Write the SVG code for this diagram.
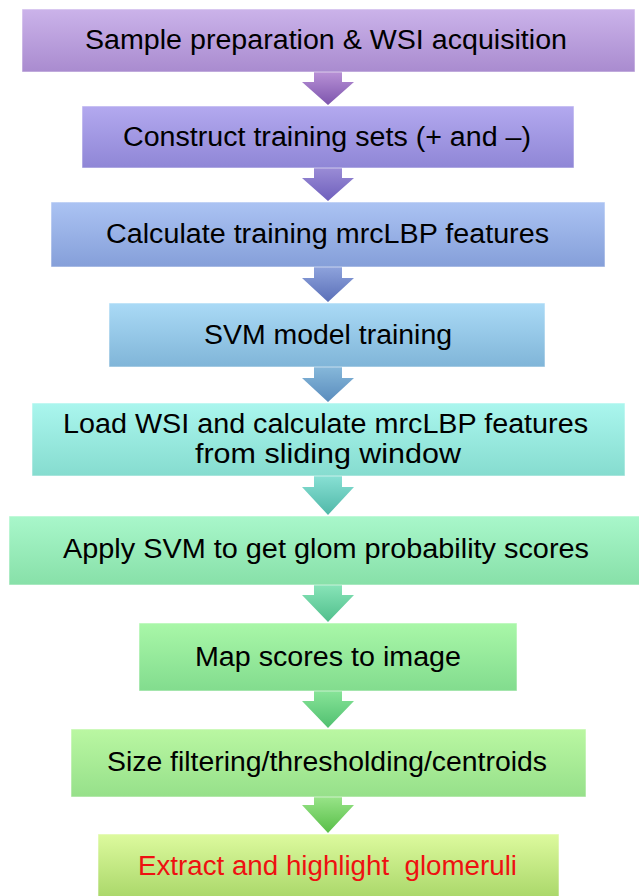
<svg xmlns="http://www.w3.org/2000/svg" width="639" height="896" viewBox="0 0 639 896">
<style>
  .box { stroke: #ffffff; stroke-opacity: 0.55; stroke-width: 1; }
  .lbl { font-family: "Liberation Sans", Arial, sans-serif; font-size: 27px; fill: #000000; text-anchor: middle; }
  .red { fill: #ee1111; }
</style>
<defs>
  <linearGradient id="g1" x1="0" y1="0" x2="0" y2="1"><stop offset="0" stop-color="#cbb3ea"/><stop offset="1" stop-color="#a98bcf"/></linearGradient>
  <linearGradient id="g2" x1="0" y1="0" x2="0" y2="1"><stop offset="0" stop-color="#b3a9ef"/><stop offset="1" stop-color="#8f86d6"/></linearGradient>
  <linearGradient id="g3" x1="0" y1="0" x2="0" y2="1"><stop offset="0" stop-color="#abc3f3"/><stop offset="1" stop-color="#859fd9"/></linearGradient>
  <linearGradient id="g4" x1="0" y1="0" x2="0" y2="1"><stop offset="0" stop-color="#aadaf6"/><stop offset="1" stop-color="#80b5d8"/></linearGradient>
  <linearGradient id="g5" x1="0" y1="0" x2="0" y2="1"><stop offset="0" stop-color="#aaf6ee"/><stop offset="1" stop-color="#86dccf"/></linearGradient>
  <linearGradient id="g6" x1="0" y1="0" x2="0" y2="1"><stop offset="0" stop-color="#a9f7cb"/><stop offset="1" stop-color="#87e0a8"/></linearGradient>
  <linearGradient id="g7" x1="0" y1="0" x2="0" y2="1"><stop offset="0" stop-color="#a9f7a8"/><stop offset="1" stop-color="#82dc8e"/></linearGradient>
  <linearGradient id="g8" x1="0" y1="0" x2="0" y2="1"><stop offset="0" stop-color="#baf7a2"/><stop offset="1" stop-color="#96e08a"/></linearGradient>
  <linearGradient id="g9" x1="0" y1="0" x2="0" y2="1"><stop offset="0" stop-color="#ddfa9e"/><stop offset="1" stop-color="#a8d668"/></linearGradient>
  <linearGradient id="a1" x1="0" y1="0" x2="0" y2="1"><stop offset="0" stop-color="#b891d6"/><stop offset="1" stop-color="#7d55ad"/></linearGradient>
  <linearGradient id="a2" x1="0" y1="0" x2="0" y2="1"><stop offset="0" stop-color="#9a8cd6"/><stop offset="1" stop-color="#6e5fbc"/></linearGradient>
  <linearGradient id="a3" x1="0" y1="0" x2="0" y2="1"><stop offset="0" stop-color="#8ea3dc"/><stop offset="1" stop-color="#5a6fb8"/></linearGradient>
  <linearGradient id="a4" x1="0" y1="0" x2="0" y2="1"><stop offset="0" stop-color="#86b8da"/><stop offset="1" stop-color="#5a8cbd"/></linearGradient>
  <linearGradient id="a5" x1="0" y1="0" x2="0" y2="1"><stop offset="0" stop-color="#88e0d4"/><stop offset="1" stop-color="#50b8a8"/></linearGradient>
  <linearGradient id="a6" x1="0" y1="0" x2="0" y2="1"><stop offset="0" stop-color="#88e4b8"/><stop offset="1" stop-color="#50bf8c"/></linearGradient>
  <linearGradient id="a7" x1="0" y1="0" x2="0" y2="1"><stop offset="0" stop-color="#88e498"/><stop offset="1" stop-color="#50c070"/></linearGradient>
  <linearGradient id="a8" x1="0" y1="0" x2="0" y2="1"><stop offset="0" stop-color="#98e488"/><stop offset="1" stop-color="#58be48"/></linearGradient>
</defs>
<rect x="0" y="0" width="639" height="896" fill="#ffffff"/>

<g id="connectors">
  <path fill="url(#a1)" d="M314,72 H342 V82 H354 L328,105 L302,82 H314 Z"/>
  <path fill="url(#a2)" d="M314,168 H342 V178 H354 L328,201 L302,178 H314 Z"/>
  <path fill="url(#a3)" d="M314,267 H342 V278 H354 L328,302 L302,278 H314 Z"/>
  <path fill="url(#a4)" d="M314,367 H342 V378 H354 L328,402 L302,378 H314 Z"/>
  <path fill="url(#a5)" d="M314,476 H342 V487 H354 L328,515 L302,487 H314 Z"/>
  <path fill="url(#a6)" d="M314,585 H342 V595 H354 L328,622 L302,595 H314 Z"/>
  <path fill="url(#a7)" d="M314,691 H342 V701 H354 L328,728 L302,701 H314 Z"/>
  <path fill="url(#a8)" d="M314,797 H342 V805 H354 L328,833 L302,805 H314 Z"/>
</g>

<g id="n1">
  <rect class="box" x="22" y="9" width="613" height="63" fill="url(#g1)"/>
  <text class="lbl" x="326" y="49" textLength="482" lengthAdjust="spacingAndGlyphs">Sample preparation &amp; WSI acquisition</text>
</g>
<g id="n2">
  <rect class="box" x="82" y="106" width="492" height="62" fill="url(#g2)"/>
  <text class="lbl" x="327" y="146" textLength="408" lengthAdjust="spacingAndGlyphs">Construct training sets (+ and –)</text>
</g>
<g id="n3">
  <rect class="box" x="51" y="202" width="554" height="65" fill="url(#g3)"/>
  <text class="lbl" x="327.5" y="243" textLength="443" lengthAdjust="spacingAndGlyphs">Calculate training mrcLBP features</text>
</g>
<g id="n4">
  <rect class="box" x="109" y="303" width="436" height="64" fill="url(#g4)"/>
  <text class="lbl" x="328" y="344" textLength="248" lengthAdjust="spacingAndGlyphs">SVM model training</text>
</g>
<g id="n5">
  <rect class="box" x="32" y="403" width="593" height="73" fill="url(#g5)"/>
  <text class="lbl" x="325.5" y="433" textLength="525" lengthAdjust="spacingAndGlyphs">Load WSI and calculate mrcLBP features</text>
  <text class="lbl" x="328" y="463" textLength="266" lengthAdjust="spacingAndGlyphs">from sliding window</text>
</g>
<g id="n6">
  <rect class="box" x="9" y="516" width="640" height="69" fill="url(#g6)"/>
  <text class="lbl" x="326" y="558" textLength="526" lengthAdjust="spacingAndGlyphs">Apply SVM to get glom probability scores</text>
</g>
<g id="n7">
  <rect class="box" x="139" y="623" width="378" height="68" fill="url(#g7)"/>
  <text class="lbl" x="328" y="666" textLength="266" lengthAdjust="spacingAndGlyphs">Map scores to image</text>
</g>
<g id="n8">
  <rect class="box" x="71" y="729" width="515" height="68" fill="url(#g8)"/>
  <text class="lbl" x="327" y="771" textLength="440" lengthAdjust="spacingAndGlyphs">Size filtering/thresholding/centroids</text>
</g>
<g id="n9">
  <rect class="box" x="98" y="834" width="461" height="66" fill="url(#g9)"/>
  <text class="lbl red" x="327.5" y="875" textLength="379" lengthAdjust="spacingAndGlyphs" xml:space="preserve">Extract and highlight  glomeruli</text>
</g>
</svg>
